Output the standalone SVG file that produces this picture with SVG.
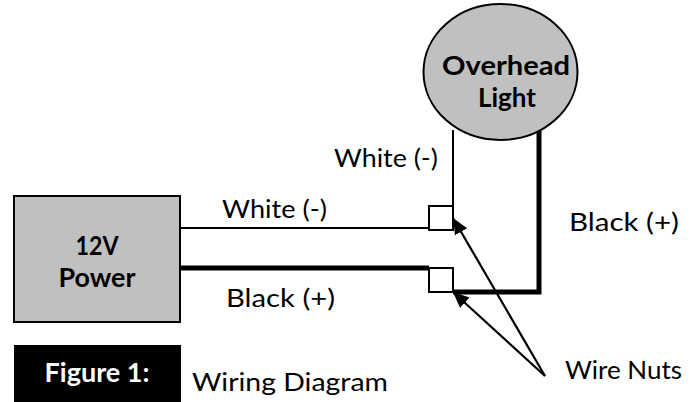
<svg xmlns="http://www.w3.org/2000/svg" width="697" height="402" viewBox="0 0 697 402">
<style>
text{font-family:"Lato","Liberation Sans",sans-serif;fill:#000}
.l{font-size:25px}
.b{font-size:26px;font-weight:700;text-anchor:middle}
.shape{fill:#c0c0c0;stroke:#000;stroke-width:2}
.nut{fill:#fff;stroke:#000;stroke-width:2}
.thin{fill:none;stroke:#000;stroke-width:2}
.thick{fill:none;stroke:#000;stroke-width:5}
.ptr{fill:none;stroke:#000;stroke-width:2.2}
</style>
<defs><marker id="a" markerUnits="userSpaceOnUse" markerWidth="18" markerHeight="16" refX="16" refY="7" orient="auto"><path d="M0 0L16 7L0 14z" fill="#000"/></marker></defs>
<g id="connectors">
<path class="thin" d="M180 228H429"/>
<path class="thin" d="M453 130V206"/>
<path class="thick" d="M180 268H429"/>
<path class="thick" d="M539 130V292H453"/>
<path class="ptr" d="M545 376L453 218" marker-end="url(#a)"/>
<path class="ptr" d="M545 376L453 292" marker-end="url(#a)"/>
</g>
<g id="power"><rect class="shape" x="14" y="196" width="166" height="126"/><text class="b" x="97" y="255" textLength="43" lengthAdjust="spacingAndGlyphs">12V</text><text class="b" x="97" y="287" textLength="77" lengthAdjust="spacingAndGlyphs">Power</text></g>
<g id="light"><ellipse class="shape" cx="500.5" cy="72" rx="77" ry="68"/><text class="b" x="506" y="75" textLength="128" lengthAdjust="spacingAndGlyphs">Overhead</text><text class="b" x="507" y="107" textLength="58" lengthAdjust="spacingAndGlyphs">Light</text></g>
<g id="nut1"><rect class="nut" x="429" y="206" width="24" height="24"/></g>
<g id="nut2"><rect class="nut" x="429" y="268" width="24" height="24"/></g>
<g id="figure"><rect x="14" y="345" width="167" height="57" fill="#000"/><text class="b" x="97" y="382" textLength="105" lengthAdjust="spacingAndGlyphs" style="fill:#fff">Figure 1:</text></g>
<g id="labels">
<text class="l" x="334" y="167" textLength="104" lengthAdjust="spacingAndGlyphs">White (-)</text>
<text class="l" x="222" y="218" textLength="105" lengthAdjust="spacingAndGlyphs">White (-)</text>
<text class="l" x="226" y="307" textLength="109" lengthAdjust="spacingAndGlyphs">Black (+)</text>
<text class="l" x="569" y="231" textLength="110" lengthAdjust="spacingAndGlyphs">Black (+)</text>
<text class="l" x="565" y="379" textLength="117" lengthAdjust="spacingAndGlyphs">Wire Nuts</text>
<text class="l" x="192" y="391" textLength="196" lengthAdjust="spacingAndGlyphs">Wiring Diagram</text>
</g>
</svg>
